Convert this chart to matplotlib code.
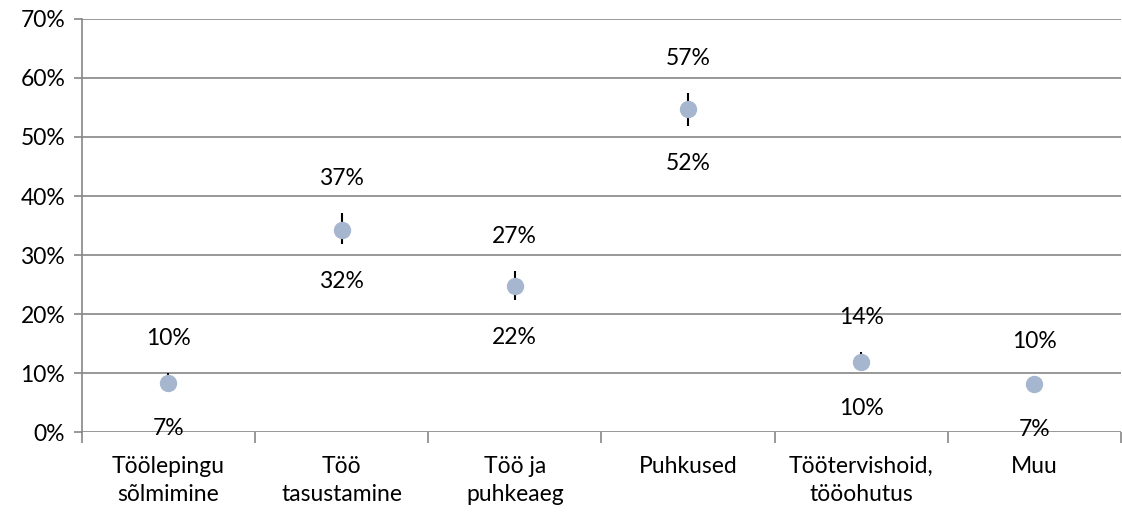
import matplotlib.pyplot as plt
from matplotlib.ticker import FixedLocator, PercentFormatter

categories = ['Töölepingu\nsõlmimine', 'Töö\ntasustamine', 'Töö ja\npuhkeaeg',
              'Puhkused', 'Töötervishoid,\ntööohutus', 'Muu']
mid = [8.3, 34.3, 24.7, 54.7, 11.9, 8.1]
high = [10.0, 37.1, 27.3, 57.4, 13.6, 9.5]
low = [6.9, 31.9, 22.4, 51.9, 10.3, 6.8]
high_labels = ['10%', '37%', '27%', '57%', '14%', '10%']
low_labels = ['7%', '32%', '22%', '52%', '10%', '7%']

plt.rcParams['font.family'] = ['Lato', 'DejaVu Sans']
plt.rcParams['font.size'] = 16.5

fig = plt.figure(figsize=(11.22, 5.12), dpi=100)
ax = fig.add_axes([0.073, 0.156, 0.926, 0.807])

x = list(range(len(categories)))
ax.vlines(x, low, high, color='black', linewidth=1.5, zorder=3)
ax.plot(x, mid, 'o', color='#A5B6CE', markersize=11.5, zorder=4)

for i in x:
    ax.annotate(high_labels[i], (i, high[i]), xytext=(0, 25), textcoords='offset points',
                ha='center', va='center', color='black')
    ax.annotate(low_labels[i], (i, low[i]), xytext=(0, -27), textcoords='offset points',
                ha='center', va='center', color='black')

ax.set_xlim(-0.5, len(categories) - 0.5)
ax.set_ylim(0, 70)
ax.set_yticks(range(0, 71, 10))
ax.yaxis.set_major_formatter(PercentFormatter(decimals=0))
ax.yaxis.grid(True, color='#868686', linewidth=1.2)
ax.set_axisbelow(True)

ax.set_xticks(x)
ax.set_xticklabels(categories, linespacing=1.45)
ax.xaxis.set_minor_locator(FixedLocator([i + 0.5 for i in range(-1, len(categories))]))
ax.tick_params(axis='x', which='major', length=0, pad=17)
ax.tick_params(axis='x', which='minor', length=8, color='#868686', width=1.2)
ax.tick_params(axis='y', length=6, color='#868686', width=1.2, pad=6)

for s in ['top', 'right', 'bottom']:
    ax.spines[s].set_visible(False)
ax.spines['left'].set_color('#868686')
ax.spines['left'].set_linewidth(1.2)

fig.savefig('out.png', dpi=100)
